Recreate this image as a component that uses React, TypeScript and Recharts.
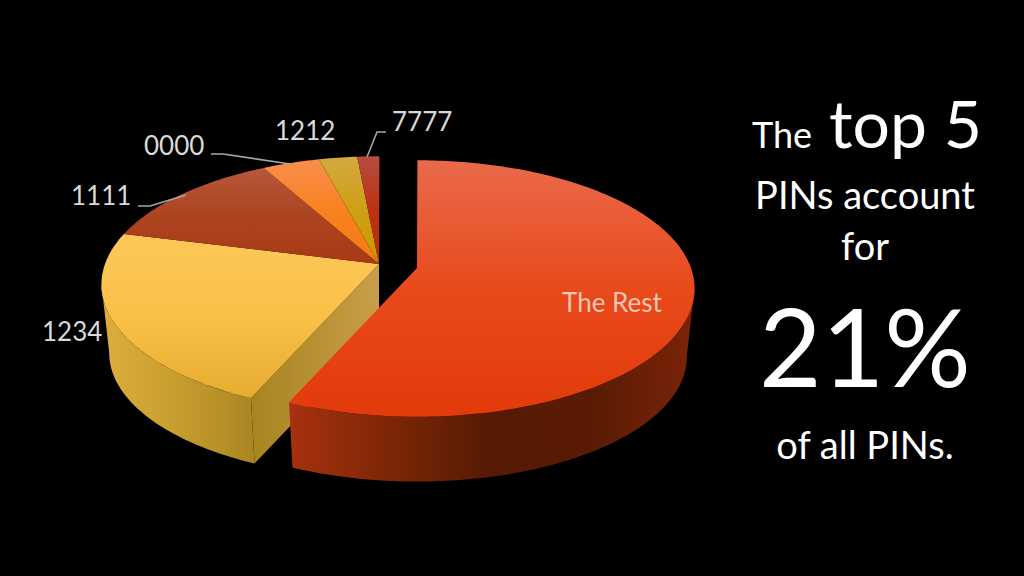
import React from "react";
import { PieChart, Pie, Cell } from "recharts";

// in percent of the circle
const pins = ["1234", "1111", "0000", "1212", "7777", "The Rest"];
const shares = [22.5, 13, 3.9, 2.6, 1.5, 56.5];

const data = pins.map((name, i) => ({ name, value: shares[i] }));

const W = 1024;
const H = 576;
const CX = 379;
const CY = 264;
const RADIUS = 274;
const FLAT = 0.456; // ellipse height / width
const PERSP = 0.16;
const DEPTH = 69;
const BOTTOM_SCALE = 0.972;
const FONT = "Lato, Carlito, sans-serif";

const topColors: Record<string, string[]> = {
  "1234": ["#fdc859", "#fbc048", "#e5ac30"],
  "1111": ["#b6573c", "#ad4420", "#a83a14"],
  "0000": ["#f98e4e", "#f8811f", "#f47a14"],
  "1212": ["#d3aa40", "#cf9f14", "#cc9800"],
  "7777": ["#b74c40", "#bd3210", "#bf2c04"],
  "The Rest": ["#e96a4a", "#e84a1c", "#e33a0a"],
};

const wallColors: Record<string, string[]> = {
  "1234": ["#dcae3c", "#c79d2f", "#a98522"],
  "The Rest": ["#a83110", "#7c2606", "#561a04", "#5a1b04", "#7a2408"],
};

const labelSpots: Record<string, { x: number; y: number; color: string; line?: string }> = {
  "1234": { x: 42, y: 341, color: "#d9d9d9" },
  "1111": { x: 71, y: 205, color: "#d9d9d9", line: "138,206 150,206 186,195" },
  "0000": { x: 144, y: 155, color: "#d9d9d9", line: "211,154 223,154 290,164" },
  "1212": { x: 275, y: 140, color: "#d9d9d9" },
  "7777": { x: 392, y: 131, color: "#d9d9d9", line: "367,157 377,132 386,132" },
  "The Rest": { x: 562, y: 312, color: "#f2c4b4" },
};

const slug = (name: string) => name.replace(" ", "");

// tau: clockwise degrees from the top of the circle
function project(cx: number, cy: number, r: number, tau: number, low: boolean) {
  const a = (tau * Math.PI) / 180;
  const u = Math.sin(a);
  const v = -Math.cos(a);
  const d = 1 - PERSP * v;
  const s = low ? BOTTOM_SCALE : 1;
  return {
    x: cx + (s * r * u) / d,
    y: cy + (s * r * FLAT * 1.0 * v) / d + (low ? DEPTH : 0),
  };
}

function arc(cx: number, cy: number, r: number, from: number, to: number, low: boolean) {
  const pts: string[] = [];
  const n = Math.max(2, Math.ceil(Math.abs(to - from)));
  for (let i = 0; i <= n; i++) {
    const p = project(cx, cy, r, from + ((to - from) * i) / n, low);
    pts.push(`${p.x.toFixed(2)},${p.y.toFixed(2)}`);
  }
  return pts;
}

const Slice3D = (props: any) => {
  const { outerRadius, startAngle, endAngle, name } = props;
  const exploded = name === "The Rest";
  const cx = props.cx + (exploded ? 38 : 0);
  const cy = props.cy + (exploded ? 4 : 0);
  let t0 = 90 - startAngle;
  let t1 = 90 - endAngle;
  while (t0 >= 360) {
    t0 -= 360;
    t1 -= 360;
  }
  while (t0 < 0) {
    t0 += 360;
    t1 += 360;
  }
  const lo = Math.max(t0, 99);
  const hi = Math.min(t1, 261);
  const id = slug(name);
  const topPts = [`${cx},${cy}`, ...arc(cx, cy, outerRadius, t0, t1, false)];
  const cornerTop = project(cx, cy, outerRadius, t0, false);
  const cornerLow = project(cx, cy, outerRadius, t0, true);
  return (
    <g>
      {hi > lo && (
        <polygon
          points={[
            ...arc(cx, cy, outerRadius, lo, hi, false),
            ...arc(cx, cy, outerRadius, hi, lo, true),
          ].join(" ")}
          fill={`url(#wall${id})`}
        />
      )}
      {name === "1234" && (
        <polygon
          points={`${cx},${cy} ${cornerTop.x},${cornerTop.y} ${cornerLow.x},${cornerLow.y} ${cx},${cy + DEPTH}`}
          fill="url(#cutFace)"
        />
      )}
      <polygon points={topPts.join(" ")} fill={`url(#top${id})`} />
    </g>
  );
};

const SliceLabel = (props: any) => {
  const spot = labelSpots[props.name];
  if (!spot) return null;
  return (
    <g>
      {spot.line && <polyline points={spot.line} fill="none" stroke="#a6a6a6" strokeWidth={1.6} />}
      <text x={spot.x} y={spot.y} fill={spot.color} fontFamily={FONT} fontSize={26}>
        {props.name}
      </text>
    </g>
  );
};

export default function App() {
  return (
    <div style={{ position: "absolute", left: 0, top: 0, width: W, height: H, background: "#000" }}>
      <PieChart width={W} height={H} margin={{ top: 0, right: 0, bottom: 0, left: 0 }}>
        <defs>
          {pins.map((name) => (
            <linearGradient key={name} id={`top${slug(name)}`} x1="0" y1="0" x2="0" y2="1">
              {topColors[name].map((c, i) => (
                <stop key={i} offset={i / (topColors[name].length - 1)} stopColor={c} />
              ))}
            </linearGradient>
          ))}
          {Object.keys(wallColors).map((name) => (
            <linearGradient key={name} id={`wall${slug(name)}`} x1="0" y1="0" x2="1" y2="0">
              {wallColors[name].map((c, i) => (
                <stop key={i} offset={i / (wallColors[name].length - 1)} stopColor={c} />
              ))}
            </linearGradient>
          ))}
          <linearGradient id="cutFace" x1="0" y1="0" x2="1" y2="0">
            <stop offset="0" stopColor="#a88420" />
            <stop offset="1" stopColor="#c89e48" />
          </linearGradient>
        </defs>
        <Pie
          data={data}
          dataKey="value"
          nameKey="name"
          cx={CX}
          cy={CY}
          innerRadius={0}
          outerRadius={RADIUS}
          startAngle={-113.5}
          endAngle={-473.5}
          paddingAngle={0}
          stroke="none"
          shape={Slice3D}
          label={SliceLabel}
          labelLine={false}
          isAnimationActive={false}
        >
          {pins.map((name) => (
            <Cell key={name} fill={topColors[name][1]} />
          ))}
        </Pie>
        <g fill="#fff" fontFamily={FONT}>
          <text x={752} y={148} fontSize={36}>The</text>
          <text x={829} y={148} fontSize={66}>top 5</text>
          <text x={865} y={209} fontSize={38} textAnchor="middle">PINs account</text>
          <text x={865} y={260} fontSize={38} textAnchor="middle">for</text>
          <text x={865} y={387} fontSize={108} textAnchor="middle">21%</text>
          <text x={865} y={459} fontSize={38} textAnchor="middle">of all PINs.</text>
        </g>
      </PieChart>
    </div>
  );
}
